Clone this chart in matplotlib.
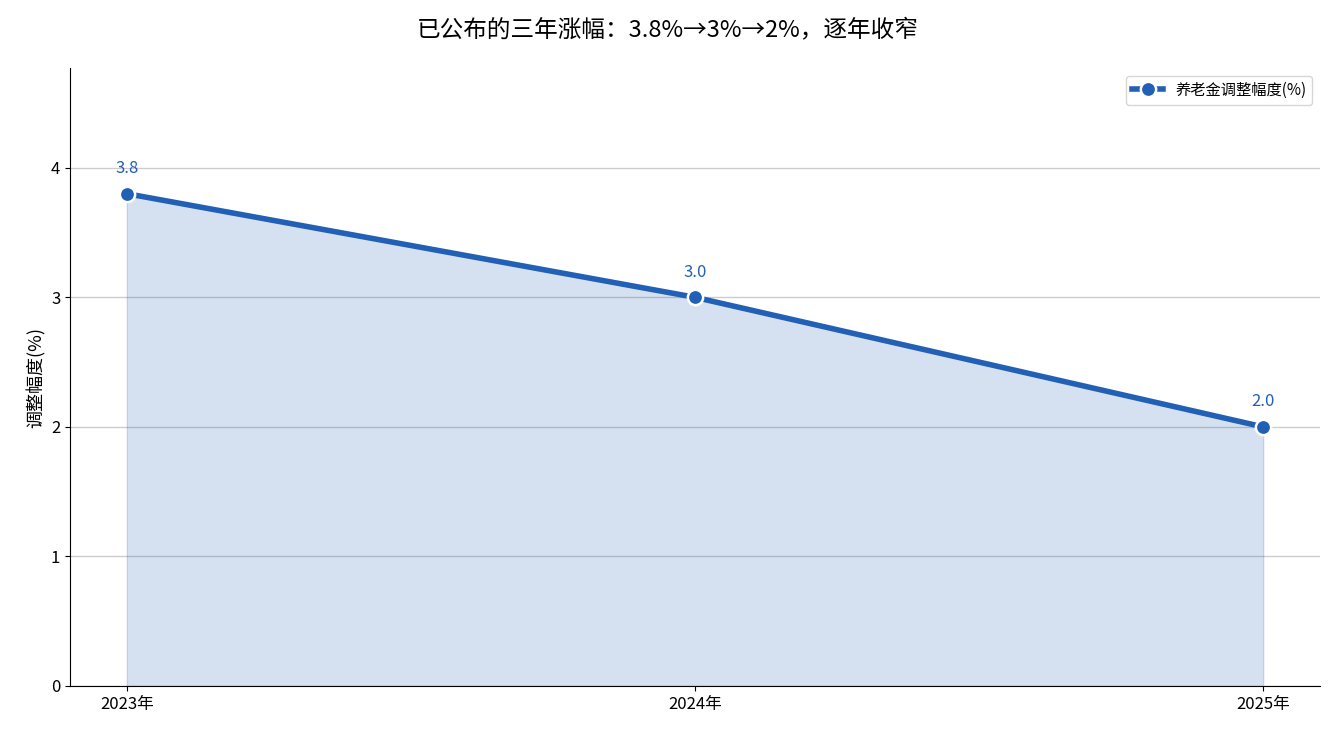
import numpy as np
import matplotlib
matplotlib.use("Agg")
from matplotlib import pyplot as plt

plt.rcParams['font.family'] = ['Noto Sans CJK SC', 'DejaVu Sans']
plt.rcParams['axes.unicode_minus'] = False

years = ['2023年', '2024年', '2025年']
rates = [3.8, 3.0, 2.0]
color = '#2160b4'

fig = plt.figure(figsize=(13.35, 7.35), dpi=100)
ax = fig.add_axes([70 / 1335, 1 - 686 / 735, 1250 / 1335, 618 / 735])
x = np.arange(len(years))

ax.fill_between(x, rates, 0, color=color, alpha=0.19)
ax.plot(x, rates, color=color, lw=4, marker='o', ms=11,
        markeredgecolor='white', markeredgewidth=1.8, label='养老金调整幅度(%)')
for xi, v in zip(x, rates):
    ax.annotate(f'{v:.1f}', (xi, v), xytext=(0, 12), textcoords='offset points',
                ha='center', va='bottom', color=color, fontsize=12)

ax.set_xticks(x)
ax.set_xticklabels(years, fontsize=12)
ax.set_xlim(-0.1, 2.1)
ax.set_ylim(0, 4.77)
ax.set_yticks([0, 1, 2, 3, 4])
ax.tick_params(axis='y', labelsize=12)
ax.set_ylabel('调整幅度(%)', fontsize=13)
ax.grid(axis='y', color='#cccccc', lw=1)
ax.set_axisbelow(True)
ax.spines['top'].set_visible(False)
ax.spines['right'].set_visible(False)
ax.legend(loc='upper right', fontsize=11)
fig.suptitle('已公布的三年涨幅：3.8%→3%→2%，逐年收窄', fontsize=17, y=0.975)

fig.savefig('out.png', dpi=100)
